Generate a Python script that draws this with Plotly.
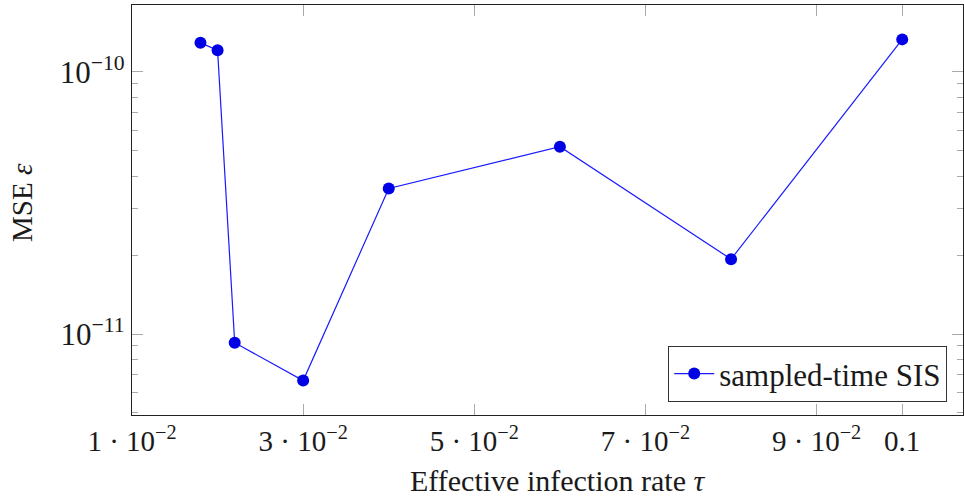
import plotly.graph_objects as go

tau = [0.018, 0.020, 0.022, 0.030, 0.040, 0.060, 0.080, 0.100]
mse = [1.29e-10, 1.21e-10, 9.26e-12, 6.64e-12, 3.59e-11, 5.18e-11, 1.93e-11, 1.33e-10]

x_tickvals = [0.01, 0.03, 0.05, 0.07, 0.09, 0.1]
x_ticktext = ["1 · 10<sup>−2</sup>", "3 · 10<sup>−2</sup>", "5 · 10<sup>−2</sup>",
              "7 · 10<sup>−2</sup>", "9 · 10<sup>−2</sup>", "0.1"]
y_tickvals = [1e-11, 1e-10]
y_ticktext = ["10<sup>−11</sup>", "10<sup>−10</sup>"]
y_minor = [k * 1e-12 for k in range(5, 10)] + [k * 1e-11 for k in range(2, 10)]

FONT = "Liberation Serif"
BLUE = "#0000e6"
W, H = 964, 501
L, R, T, B = 132, 1, 5, 86

fig = go.Figure()
fig.add_trace(go.Scatter(
    x=tau, y=mse, mode="lines+markers", name="sampled-time SIS",
    line=dict(color="#1a1aff", width=1.2),
    marker=dict(color=BLUE, size=12),
))

pw, ph = W - L - R, H - T - B
fig.update_layout(
    width=W, height=H,
    margin=dict(l=L, r=R, t=T, b=B),
    paper_bgcolor="white", plot_bgcolor="white",
    font=dict(family=FONT, size=29, color="#1a1a1a"),
    showlegend=True,
    legend=dict(
        x=0.981, y=0.032, xanchor="right", yanchor="bottom",
        bgcolor="white", bordercolor="#333333", borderwidth=1,
        font=dict(family=FONT, size=31),
        itemwidth=40,
    ),
    annotations=[
        dict(text="Effective infection rate <i>τ</i>", xref="paper", yref="paper",
             x=(557 - L) / pw, y=-(481 - (T + ph)) / ph, xanchor="center", yanchor="middle",
             showarrow=False, font=dict(family=FONT, size=30)),
        dict(text="MSE <i>ε</i>", xref="paper", yref="paper", textangle=-90,
             x=(22 - L) / pw, y=(T + ph - 203) / ph, xanchor="center", yanchor="middle",
             showarrow=False, font=dict(family=FONT, size=29)),
    ],
)
fig.update_xaxes(
    range=[0.01, 0.1071], showgrid=False, zeroline=False,
    showline=True, linecolor="#222222", linewidth=1.3, mirror="allticks",
    ticks="inside", ticklen=11, tickcolor="#aaaaaa", tickwidth=1,
    tickvals=x_tickvals, ticktext=x_ticktext, tickfont=dict(size=29),
)
fig.update_yaxes(
    type="log", range=[-11.309, -9.745], showgrid=False, zeroline=False,
    showline=True, linecolor="#222222", linewidth=1.3, mirror="allticks",
    ticks="inside", ticklen=11, tickcolor="#aaaaaa", tickwidth=1,
    tickvals=y_tickvals, ticktext=y_ticktext, tickfont=dict(size=31),
    minor=dict(ticks="inside", ticklen=6, tickcolor="#aaaaaa", tickvals=y_minor, showgrid=False),
)

fig.write_html("out.html")
